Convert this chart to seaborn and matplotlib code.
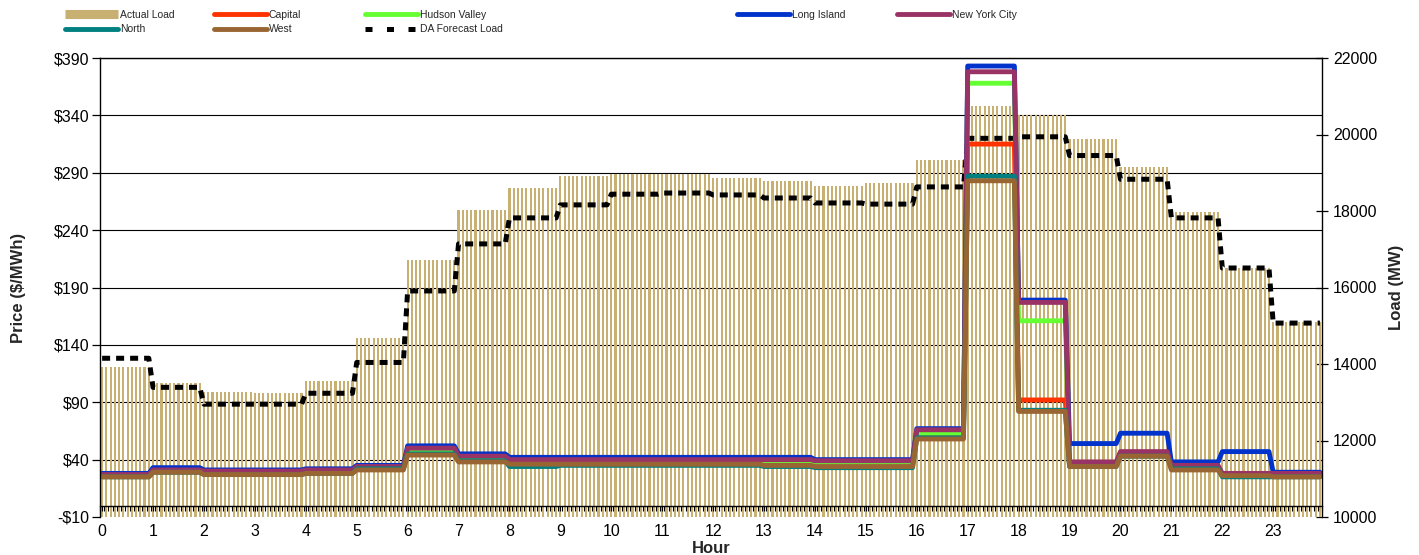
import numpy as np
import pandas as pd
import matplotlib
matplotlib.use("Agg")
import matplotlib.pyplot as plt
import seaborn as sns
from matplotlib.lines import Line2D
from matplotlib.transforms import blended_transform_factory
from matplotlib.ticker import FixedLocator, FuncFormatter
from matplotlib.font_manager import FontProperties

# ---------------- data (hourly values, shown at 5-minute resolution) ----------------
hours = list(range(24))
intervals_per_hour = 12

actual_load = [13920, 13500, 13270, 13245, 13555, 14680, 16720, 18030, 18600, 18915,
               18970, 18970, 18860, 18780, 18650, 18730, 19330, 20745, 20510, 19880,
               19160, 17970, 16510, 15100]
da_forecast_load = [14150, 13390, 12950, 12950, 13235, 14040, 15910, 17140, 17820, 18160,
                    18440, 18470, 18420, 18340, 18210, 18180, 18630, 19900, 19940, 19450,
                    18830, 17820, 16510, 15070]

capital = [26, 30, 28, 28, 29, 33, 47, 41, 38, 38, 38, 38, 38, 37, 36, 36, 62, 315, 92, 36, 45, 33, 26, 26]
hudson_valley = [26, 30, 29, 29, 30, 33, 48, 41, 39, 39, 39, 39, 39, 38, 37, 37, 63, 368, 161, 37, 46, 34, 27, 27]
long_island = [28, 33, 31, 31, 32, 35, 52, 45, 42, 42, 42, 42, 42, 42, 40, 40, 67, 383, 179, 54, 63, 38, 47, 29]
new_york_city = [27, 31, 30, 30, 31, 34, 50, 43, 40, 40, 40, 40, 40, 40, 39, 39, 66, 378, 177, 38, 47, 35, 28, 28]
north = [25, 29, 27, 27, 28, 32, 45, 39, 34, 35, 35, 35, 35, 34, 33, 33, 59, 287, 83, 34, 43, 32, 25, 25]
west = [25, 29, 27, 27, 28, 31, 44, 38, 36, 36, 36, 36, 36, 35, 34, 34, 58, 283, 82, 34, 43, 31, 26, 25]

zone_names = ["Capital", "Hudson Valley", "Long Island", "New York City", "North", "West"]
zone_values = [capital, hudson_valley, long_island, new_york_city, north, west]
zone_colors = {"Capital": "#FF3300", "Hudson Valley": "#66FF33", "Long Island": "#0033CC",
               "New York City": "#993366", "North": "#008080", "West": "#996633"}
load_color = "#C8AF72"

price_ticks = list(range(-10, 391, 50))
load_ticks = list(range(10000, 22001, 2000))

# ---------------- build 5-minute frames ----------------
n_slots = len(hours) * intervals_per_hour
slots = np.arange(n_slots)
load_df = pd.DataFrame({"slot": slots,
                        "actual": np.repeat(actual_load, intervals_per_hour),
                        "da": np.repeat(da_forecast_load, intervals_per_hour)})
price_df = pd.concat([pd.DataFrame({"slot": slots, "zone": name,
                                    "price": np.repeat(vals, intervals_per_hour)})
                      for name, vals in zip(zone_names, zone_values)], ignore_index=True)

# ---------------- style ----------------
sns.set_theme(style="white")
plt.rcParams["font.family"] = ["Liberation Sans", "DejaVu Sans"]
plt.rcParams["axes.edgecolor"] = "black"
plt.rcParams["xtick.color"] = "black"
plt.rcParams["ytick.color"] = "black"

W, H = 1419, 555
fig = plt.figure(figsize=(W / 100, H / 100), dpi=100)
L, R, T, B = 100, 1322, 58, 517
ax_load = fig.add_axes([L / W, 1 - B / H, (R - L) / W, (B - T) / H])
ax_price = ax_load.twinx()

# bars (load axis)
sns.barplot(data=load_df, x="slot", y="actual", ax=ax_load, color=load_color,
            saturation=1, width=0.5, errorbar=None, zorder=2,
            linewidth=0, edgecolor="none")
ax_load.set_ylim(load_ticks[0], load_ticks[-1])
ax_load.set_xlim(-0.5, n_slots - 0.5)

# price gridlines behind the bars
ax_price.set_ylim(price_ticks[0], price_ticks[-1])
trans = blended_transform_factory(ax_load.transAxes, ax_price.transData)
for p in price_ticks[1:]:
    ax_load.plot([0, 1], [p, p], transform=trans, color="black", lw=0.8, zorder=0.5)

# DA forecast load
sns.lineplot(data=load_df, x="slot", y="da", ax=ax_load, color="black", lw=3.6, zorder=3)
da_line = ax_load.lines[-1]
da_line.set_dashes([1.6, 1.2])
da_line.set_dash_capstyle("butt")

# price lines
sns.lineplot(data=price_df, x="slot", y="price", hue="zone", hue_order=zone_names,
             palette=zone_colors, lw=3.5, ax=ax_price, legend=False)
for ln in ax_price.lines:
    ln.set_solid_capstyle("round")
    ln.set_solid_joinstyle("round")

# ---------------- axes ----------------
ax_load.yaxis.tick_right()
ax_load.yaxis.set_label_position("right")
ax_price.yaxis.tick_left()
ax_price.yaxis.set_label_position("left")

ax_load.set_yticks(load_ticks)
ax_load.set_yticklabels([str(v) for v in load_ticks])
ax_load.tick_params(axis="y", right=True, left=False, labelright=True, labelleft=False,
                    direction="inout", length=8, width=0.9, pad=4, labelsize=11.5)
ax_load.set_ylabel("Load (MW)", fontsize=12, fontweight="bold", labelpad=8)
ax_load.tick_params(axis="x", bottom=False, labelbottom=False)
ax_load.set_xlabel("")
for s in ax_load.spines.values():
    s.set_visible(False)

ax_price.set_yticks(price_ticks)
ax_price.yaxis.set_major_formatter(FuncFormatter(lambda v, _: f"-${abs(int(v))}" if v < 0 else f"${int(v)}"))
ax_price.tick_params(axis="y", left=True, right=False, labelleft=True, labelright=False,
                     direction="out", length=6, width=0.9, pad=1.5, labelsize=11.5)
ax_price.set_ylabel("Price ($/MWh)", fontsize=12, fontweight="bold", labelpad=20)

ax_price.xaxis.set_visible(True)
ax_price.xaxis.set_major_locator(FixedLocator(slots[::intervals_per_hour]))
ax_price.xaxis.set_major_formatter(FuncFormatter(lambda v, _: str(int(round(v)) // intervals_per_hour)))
ax_price.xaxis.set_minor_locator(FixedLocator(np.arange(n_slots + 1) - 0.5))
ax_price.tick_params(axis="x", which="both", bottom=True, top=False, labelbottom=True,
                     direction="out", length=3.5, width=0.8)
ax_price.tick_params(axis="x", which="major", pad=10, labelsize=11.5)
ax_price.set_xlabel("Hour", fontsize=12, fontweight="bold", labelpad=1)
ax_price.set_xlim(-0.5, n_slots - 0.5)
ax_price.spines["bottom"].set_position(("data", 0))
for side in ["left", "right", "top", "bottom"]:
    ax_price.spines[side].set_visible(True)
    ax_price.spines[side].set_color("black")
    ax_price.spines[side].set_linewidth(1.0)
ax_price.grid(False)
ax_load.grid(False)

# ---------------- legend ----------------
leg_font = FontProperties(family=["Liberation Sans Narrow", "Liberation Sans"], size=7.5)

def line_handle(c):
    return Line2D([], [], color=c, lw=3.5, solid_capstyle="round")

h_load = Line2D([], [], color=load_color, lw=6.5, solid_capstyle="butt")
h_da = Line2D([], [], color="black", lw=3.6, dashes=[1.4, 2.9], dash_capstyle="butt")
columns = [
    ([h_load, line_handle(zone_colors["North"])], ["Actual Load", "North"], 65),
    ([line_handle(zone_colors["Capital"]), line_handle(zone_colors["West"])], ["Capital", "West"], 214),
    ([line_handle(zone_colors["Hudson Valley"]), h_da], ["Hudson Valley", "DA Forecast Load"], 365),
    ([line_handle(zone_colors["Long Island"])], ["Long Island"], 737),
    ([line_handle(zone_colors["New York City"])], ["New York City"], 897),
]
for handles, labels, x0 in columns:
    fig.legend(handles, labels, loc="upper left", bbox_to_anchor=(x0 / W, 1 - 10 / H),
               frameon=False, prop=leg_font, handlelength=5.1, handletextpad=0.15,
               borderpad=0, borderaxespad=0, labelspacing=0.42)

fig.savefig("out.png", dpi=100)
